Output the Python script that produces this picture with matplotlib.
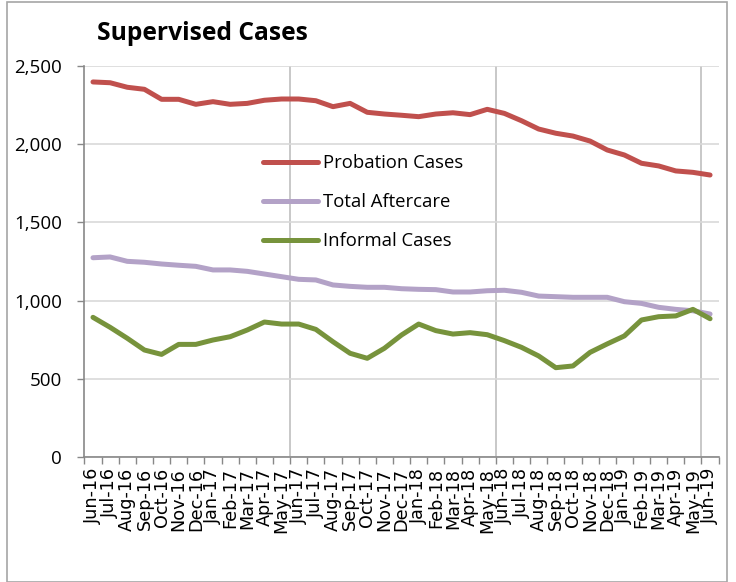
import matplotlib
matplotlib.use("Agg")
import matplotlib.pyplot as plt
import numpy as np
from matplotlib.patches import Rectangle

months = ["Jun-16","Jul-16","Aug-16","Sep-16","Oct-16","Nov-16","Dec-16","Jan-17","Feb-17","Mar-17",
          "Apr-17","May-17","Jun-17","Jul-17","Aug-17","Sep-17","Oct-17","Nov-17","Dec-17","Jan-18",
          "Feb-18","Mar-18","Apr-18","May-18","Jun-18","Jul-18","Aug-18","Sep-18","Oct-18","Nov-18",
          "Dec-18","Jan-19","Feb-19","Mar-19","Apr-19","May-19","Jun-19"]

probation = [2398, 2393, 2364, 2351, 2287, 2287, 2255, 2272, 2255, 2261, 2281, 2289, 2289, 2278,
             2240, 2261, 2204, 2193, 2185, 2176, 2193, 2201, 2189, 2223, 2197, 2150, 2097, 2070,
             2052, 2020, 1963, 1931, 1878, 1861, 1829, 1820, 1803]
aftercare = [1274, 1279, 1251, 1245, 1234, 1226, 1219, 1196, 1196, 1187, 1170, 1153, 1136, 1132,
             1100, 1091, 1085, 1085, 1076, 1072, 1070, 1055, 1055, 1063, 1066, 1053, 1029, 1025,
             1021, 1021, 1021, 993, 982, 957, 944, 935, 914]
informal = [893, 829, 759, 684, 656, 720, 720, 748, 769, 812, 863, 850, 850, 816, 737, 663, 631,
            695, 780, 850, 808, 786, 795, 782, 744, 701, 646, 571, 582, 669, 723, 774, 876, 897,
            902, 944, 884]

series_names = ["Probation Cases", "Total Aftercare", "Informal Cases"]
colors = ["#C0504D", "#B3A2C7", "#77933C"]
yticks = [0, 500, 1000, 1500, 2000, 2500]

fig = plt.figure(figsize=(7.36, 5.82), dpi=100)
ax = fig.add_axes([0.1147, 0.2148, 0.9764 - 0.1147, 0.8866 - 0.2148])

x = np.arange(len(months))
for vals, name, c in zip([probation, aftercare, informal], series_names, colors):
    ax.plot(x, vals, color=c, lw=3.6, label=name, solid_capstyle="round", solid_joinstyle="round")

ax.set_xlim(-0.5, len(months) - 0.5)
ax.set_ylim(0, 2500)
ax.set_yticks(yticks)
ax.set_yticklabels([f"{v:,}" for v in yticks], fontsize=13.5, family="Open Sans")
ax.yaxis.grid(True, color="#D9D9D9", lw=1.2)
for b in [11.5, 23.5, 35.5]:
    ax.axvline(b, color="#BFBFBF", lw=1.2, zorder=0)

ax.set_xticks(x)
ax.set_xticklabels(months, rotation=90, fontsize=12.7, family="DejaVu Sans")
ax.xaxis.set_minor_locator(matplotlib.ticker.FixedLocator(np.arange(-0.5, len(months), 1)))
ax.tick_params(axis="x", which="major", length=0, pad=8)
ax.tick_params(axis="x", which="minor", length=5, color="#888888", width=1)
ax.tick_params(axis="y", length=5, color="#888888", width=1, pad=11)

for s in ["top", "right"]:
    ax.spines[s].set_visible(False)
for s in ["left", "bottom"]:
    ax.spines[s].set_color("#888888")
    ax.spines[s].set_linewidth(1.2)

fig.text(97 / 736, 1 - 34 / 582, "Supervised Cases", fontsize=17.7, fontweight="bold",
         family="Open Sans", va="center", ha="left")

leg = ax.legend(loc="upper left", bbox_to_anchor=(0.2814, 0.775), frameon=False,
                prop={"family": "Open Sans", "size": 13.3}, handlelength=3.0,
                labelspacing=1.15, handletextpad=0.25, borderpad=0, borderaxespad=0)

fig.patches.append(Rectangle((7 / 736, 0), 720 / 736, 580 / 582, transform=fig.transFigure,
                             fill=False, edgecolor="#A6A6A6", lw=1.2))

fig.savefig("out.png", dpi=100)
